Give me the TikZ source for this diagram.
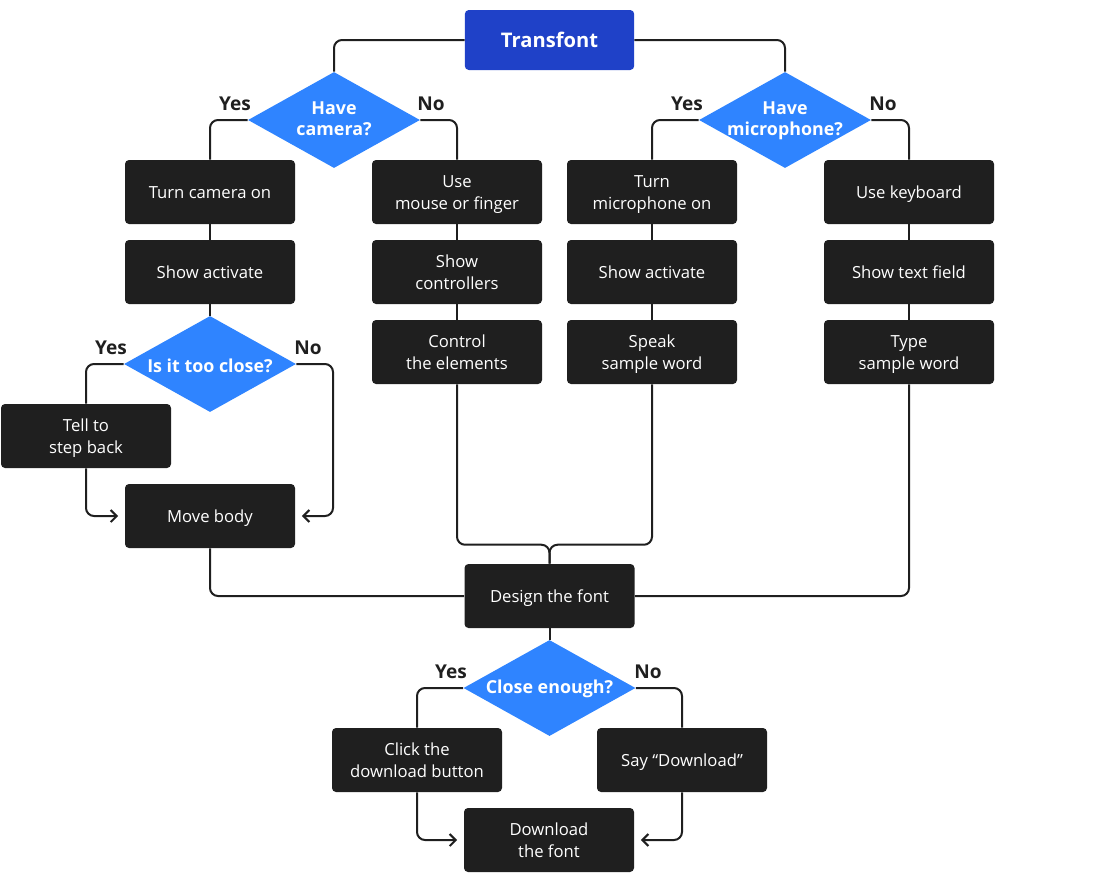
\documentclass[tikz,border=0pt]{standalone}
\usepackage{fontspec}
\setmainfont{Open Sans}
\usetikzlibrary{shapes.geometric, arrows.meta, calc}
\definecolor{boxdark}{HTML}{1F1F1F}
\definecolor{askblue}{HTML}{2F84FF}
\definecolor{titleblue}{HTML}{1F41C8}
\newcommand{\toprule}{\rule{0pt}{1.069em}}
\newcommand{\botrule}{\rule[-0.293em]{0pt}{0.293em}}
\newcommand{\askrule}{\rule{0pt}{\dimexpr0.76em+2pt\relax}}
\tikzset{
    linebox/.style={execute at begin node=\toprule, execute at end node=\botrule},
    stepbox/.style={linebox, rectangle, rounded corners=3pt, fill=boxdark, text=white, minimum width=127.5pt, minimum height=48pt, align=center, font=\fontsize{12.5}{16.5}\selectfont},
    twoline/.style={text height=28.4pt, text depth=2.2pt},
    ask/.style={diamond, fill=askblue, text=white, minimum width=129pt, minimum height=72pt, inner sep=-5pt, aspect=1.8, align=center, font=\bfseries\fontsize{13.4}{15.75}\selectfont, execute at begin node=\askrule},
    asktwo/.style={text height=23.5pt, text depth=0.5pt},
    answer/.style={text=boxdark, font=\bfseries\fontsize{14.3}{16}\selectfont},
    wire/.style={draw=boxdark, line width=1.5pt, rounded corners=6pt},
    arr/.style={wire, -{Straight Barb[length=4.5pt, width=9pt, line width=1.5pt]}, shorten >=5pt}
}
\begin{document}
\begin{tikzpicture}[x=0.75pt, y=-0.75pt]
        \useasboundingbox (0,0) rectangle (1100,883);
        \node[linebox, rectangle, rounded corners=3pt, fill=titleblue, text=white, minimum width=127pt, minimum height=45pt, font=\bfseries\fontsize{15.1}{17}\selectfont] at (549.5,40) (title) {Transfont};

        \node[ask, asktwo] at (334,120) (cam) {Have\\camera?};
        \node[ask, asktwo] at (785,120) (mic) {Have\\microphone?};

        \node[stepbox] at (210,192) (camon) {Turn camera on};
        \node[stepbox] at (210,272) (show1) {Show activate};
        \node[ask] at (210,364) (near) {Is it too close?};
        \node[stepbox, twoline] at (86,436) (back) {Tell to\\step back};
        \node[stepbox] at (210,516) (move) {Move body};

        \node[stepbox, twoline] at (457,192) (mouse) {Use\\mouse or finger};
        \node[stepbox, twoline] at (457,272) (ctrls) {Show\\controllers};
        \node[stepbox, twoline] at (457,352) (elems) {Control\\the elements};

        \node[stepbox, twoline] at (652,192) (micon) {Turn\\microphone on};
        \node[stepbox] at (652,272) (show2) {Show activate};
        \node[stepbox, twoline] at (652,352) (speak) {Speak\\sample word};

        \node[stepbox] at (909,192) (keys) {Use keyboard};
        \node[stepbox] at (909,272) (field) {Show text field};
        \node[stepbox, twoline] at (909,352) (type) {Type\\sample word};

        \node[stepbox] at (549.5,596) (design) {Design the font};
        \node[ask] at (549.5,688) (enough) {Close enough?};
        \node[stepbox, twoline] at (417,760) (click) {Click the\\download button};
        \node[stepbox] at (682,760) (say) {Say “Download”};
        \node[stepbox, twoline] at (549,840) (dl) {Download\\the font};

        \node[answer] at (235,104) (camyes) {Yes};
        \node[answer] at (431,104) (camno) {No};
        \node[answer] at (687,104) (micyes) {Yes};
        \node[answer] at (883,104) (micno) {No};
        \node[answer] at (111,348) (nearyes) {Yes};
        \node[answer] at (308,348) (nearno) {No};
        \node[answer] at (451,672) (enoughyes) {Yes};
        \node[answer] at (648,672) (enoughno) {No};

        \coordinate (nearside) at (333,516);
        \coordinate (merge) at ($(design.north) + (0,-19)$);

        \draw[wire] (title.west) -| (cam.north);
        \draw[wire] (title.east) -| (mic.north);
        \draw[wire] (cam.west) -| (camon.north);
        \draw[wire] (cam.east) -| (mouse.north);
        \draw[wire] (mic.west) -| (micon.north);
        \draw[wire] (mic.east) -| (keys.north);

        \draw[wire] (camon.south) -- (show1.north);
        \draw[wire] (show1.south) -- (near.north);
        \draw[wire] (near.west) -| (back.north);
        \draw[arr] (back.south) |- (move.west);
        \draw[arr] (near.east) -| (nearside) -- (move.east);
        \draw[wire] (move.south) |- (design.west);

        \draw[wire] (mouse.south) -- (ctrls.north);
        \draw[wire] (ctrls.south) -- (elems.north);
        \draw[wire] (micon.south) -- (show2.north);
        \draw[wire] (show2.south) -- (speak.north);
        \draw[wire] (keys.south) -- (field.north);
        \draw[wire] (field.south) -- (type.north);

        \draw[wire] (elems.south) |- (merge) -- (design.north);
        \draw[wire] (speak.south) |- (merge) -- (design.north);
        \draw[wire] (type.south) |- (design.east);

        \draw[wire] (design.south) -- (enough.north);
        \draw[wire] (enough.west) -| (click.north);
        \draw[wire] (enough.east) -| (say.north);
        \draw[arr] (click.south) |- (dl.west);
        \draw[arr] (say.south) |- (dl.east);
    \end{tikzpicture}
\end{document}
